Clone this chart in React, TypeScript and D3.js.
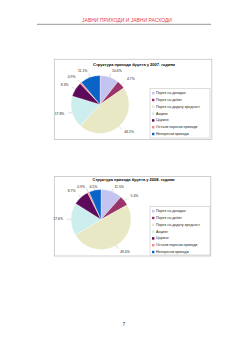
import React from 'react';
import * as d3 from 'd3';

const categories = [
  'Порез на доходак',
  'Порез на добит',
  'Порез на додату вредност',
  'Акцизе',
  'Царине',
  'Остали порески приходи',
  'Непорески приходи',
];
const values2007 = [10.6, 4.7, 46.5, 17.8, 8.3, 0.9, 11.1];
const values2008 = [11.5, 5.4, 49.4, 17.6, 8.7, 0.9, 6.5];
const colors = ['#c4c4f0', '#9b3468', '#e8e8c4', '#cdeeee', '#5e0a5a', '#f48888', '#0a64c8'];
const title2007 = 'Структура прихода буџета у 2007. години';
const title2008 = 'Структура прихода буџета у 2008. години';
const headerText = 'ЈАВНИ ПРИХОДИ И ЈАВНИ РАСХОДИ';
const pageNumber = '7';

const FONT = "'Liberation Sans', Arial, sans-serif";

type Layout = {
  x: number; y: number; w: number; h: number;
  cx: number; cy: number; r: number;
  lx: number; ly: number; lw: number; lh: number;
  titleY: number;
};

function PieChart({ values, title, L }: { values: number[]; title: string; L: Layout }) {
  const pie = d3.pie<number>().sort(null).value((d) => d);
  const arcs = pie(values);
  const arc = d3.arc<d3.PieArcDatum<number>>().innerRadius(0).outerRadius(L.r);
  const fmt = d3.format('.1f');
  const step = 6.8;
  const minY = L.titleY + 7 - L.cy;
  return (
    <g>
      <rect x={L.x} y={L.y} width={L.w} height={L.h} fill="#fff" stroke="#c4c4c4" strokeWidth={0.8} />
      <text x={L.x + L.w / 2 + 1} y={L.titleY} fontSize={4} fontWeight="bold" textAnchor="middle"
        dominantBaseline="middle" fontFamily={FONT} fill="#000">{title}</text>
      <g transform={`translate(${L.cx},${L.cy})`}>
        {arcs.map((a, i) => (
          <path key={i} d={arc(a) || ''} fill={colors[i]} stroke="#fff" strokeWidth={0.3} />
        ))}
        {arcs.map((a, i) => {
          const m = (a.startAngle + a.endAngle) / 2;
          const s = Math.sin(m), c = -Math.cos(m);
          const p0 = [s * L.r, c * L.r];
          const p1 = [s * (L.r + 4), c * (L.r + 4)];
          const lr = L.r + 8;
          const ty = Math.max(c * lr, minY);
          const anchor = s > 0.3 ? 'start' : s < -0.3 ? 'end' : 'middle';
          return (
            <g key={'l' + i}>
              <line x1={p0[0]} y1={p0[1]} x2={p1[0]} y2={Math.max(p1[1], minY + 1.5)} stroke="#888" strokeWidth={0.3} />
              <text x={s * lr} y={ty} fontSize={3.4} textAnchor={anchor} dominantBaseline="middle"
                fontFamily={FONT} fill="#222">{fmt(values[i])}%</text>
            </g>
          );
        })}
      </g>
      <rect x={L.lx} y={L.ly} width={L.lw} height={L.lh} fill="#fff" stroke="#bbb" strokeWidth={0.5} />
      {categories.map((c, i) => (
        <g key={c} transform={`translate(${L.lx + 2},${L.ly + 4.7 + i * step})`}>
          <rect x={0} y={-1.2} width={2.4} height={2.4} fill={colors[i]} />
          <text x={4} y={0} fontSize={3.6} dominantBaseline="middle" fontFamily={FONT} fill="#222">{c}</text>
        </g>
      ))}
    </g>
  );
}

export default function App() {
  const L1: Layout = { x: 54.3, y: 59.3, w: 157.5, h: 80.2, cx: 100, cy: 104.5, r: 29,
    lx: 150, ly: 88.5, lw: 60, lh: 49.5, titleY: 64.5 };
  const L2: Layout = { x: 54.3, y: 176.5, w: 156.5, h: 79.5, cx: 101, cy: 219.5, r: 30,
    lx: 150, ly: 206.5, lw: 60, lh: 48.5, titleY: 180 };
  return (
    <svg width={248} height={350} style={{ position: 'absolute', left: 0, top: 0, background: '#fff' }}>
      <rect width={248} height={350} fill="#fff" />
      <text x={127} y={20.8} fontSize={5} textAnchor="middle" dominantBaseline="middle"
        fontFamily={FONT} fill="#e8404a">{headerText}</text>
      <line x1={37} x2={211} y1={24.3} y2={24.3} stroke="#8a8a8a" strokeWidth={0.9} />
      <PieChart values={values2007} title={title2007} L={L1} />
      <PieChart values={values2008} title={title2008} L={L2} />
      <text x={124} y={325} fontSize={5} textAnchor="middle" dominantBaseline="middle"
        fontFamily={FONT} fill="#333">{pageNumber}</text>
    </svg>
  );
}
